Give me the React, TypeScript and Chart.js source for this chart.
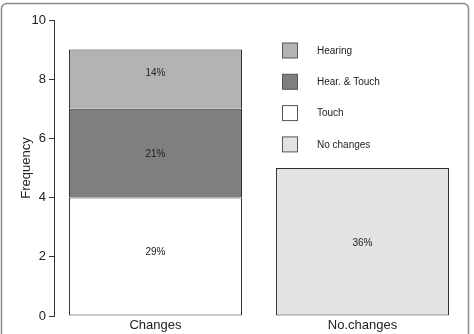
import React, { useEffect, useRef } from 'react';
import { Chart, registerables } from 'chart.js';

Chart.register(...registerables);

const categories = ['Changes', 'No.changes'];
const seriesNames = ['Touch', 'Hear. & Touch', 'Hearing', 'No changes'];
const touch = [4, null];
const hearTouch = [3, null];
const hearing = [2, null];
const noChanges = [null, 5];
const percentLabels = ['29%', '21%', '14%', '36%'];
const labelAnchors = [2.15, 5.45, 8.2, 2.45];
const yTicks = [0, 2, 4, 6, 8, 10];
const legendOrder = ['Hearing', 'Hear. & Touch', 'Touch', 'No changes'];

const FONT = "'Liberation Sans', Arial, Helvetica, sans-serif";
const fills: Record<string, string> = {
  'Touch': '#ffffff',
  'Hear. & Touch': '#7f7f7f',
  'Hearing': '#b3b3b3',
  'No changes': '#e3e3e3',
};

const toPoints = (arr: (number | null)[]) =>
  arr.map((v, i) => (v == null ? null : { x: i, y: v })).filter((p) => p !== null);

const framePlugin = {
  id: 'frame',
  beforeDraw(chart: any) {
    const ctx = chart.ctx;
    ctx.save();
    ctx.fillStyle = '#ffffff';
    ctx.fillRect(0, 0, chart.width, chart.height);
    ctx.strokeStyle = '#8a8a8a';
    ctx.lineWidth = 1.5;
    ctx.beginPath();
    ctx.roundRect(1.5, 3.5, 467, 400, 5);
    ctx.stroke();
    ctx.restore();
  },
};

const labelPlugin = {
  id: 'pctLabels',
  afterDatasetsDraw(chart: any) {
    const ctx = chart.ctx;
    const yScale = chart.scales.y;
    ctx.save();
    ctx.font = `10px ${FONT}`;
    ctx.fillStyle = '#222';
    ctx.textAlign = 'center';
    ctx.textBaseline = 'middle';
    chart.data.datasets.forEach((ds: any, di: number) => {
      const meta = chart.getDatasetMeta(di);
      meta.data.forEach((el: any) => {
        ctx.fillText(percentLabels[di], el.x, yScale.getPixelForValue(labelAnchors[di]));
      });
    });
    ctx.restore();
  },
};

const legendPlugin = {
  id: 'customLegend',
  afterDraw(chart: any) {
    const ctx = chart.ctx;
    ctx.save();
    const boxX = 282.5;
    const startY = 51;
    const step = 31.3;
    legendOrder.forEach((name, i) => {
      const cy = startY + i * step;
      ctx.fillStyle = fills[name];
      ctx.fillRect(boxX, cy - 8, 15, 15);
      ctx.strokeStyle = '#555';
      ctx.lineWidth = 1;
      ctx.strokeRect(boxX, cy - 8, 15, 15);
      ctx.fillStyle = '#222';
      ctx.font = `10px ${FONT}`;
      ctx.textAlign = 'left';
      ctx.textBaseline = 'middle';
      ctx.fillText(name, 317, cy);
    });
    ctx.restore();
  },
};

export default function App() {
  const ref = useRef<HTMLCanvasElement>(null);
  useEffect(() => {
    const series = [touch, hearTouch, hearing, noChanges];
    const chart = new Chart(ref.current!, {
      type: 'bar',
      data: {
        datasets: series.map((arr, i) => ({
          label: seriesNames[i],
          data: toPoints(arr) as any,
          backgroundColor: fills[seriesNames[i]],
          borderColor: '#2e2e2e',
          borderWidth: 1,
          borderSkipped: i === 0 || i === 3 ? false : 'start',
          barPercentage: 0.836,
          categoryPercentage: 1,
        })),
      },
      options: {
        responsive: false,
        animation: false,
        devicePixelRatio: 1,
        events: [],
        layout: { padding: { top: 20, right: 8, left: 0, bottom: 0 } },
        plugins: {
          legend: { display: false },
          tooltip: { enabled: false },
        },
        scales: {
          x: {
            type: 'linear',
            stacked: true,
            offset: false,
            min: -0.4903,
            max: 1.5,
            afterBuildTicks: (s: any) => {
              s.ticks = categories.map((_, i) => ({ value: i }));
            },
            afterFit: (s: any) => {
              s.height = 18;
            },
            grid: { display: false, drawTicks: false, offset: false },
            border: { display: false },
            ticks: {
              autoSkip: false,
              maxRotation: 0,
              padding: 2,
              color: '#222',
              font: { family: FONT, size: 13 },
              callback: (v: any) => categories[v as number] ?? '',
            },
          },
          y: {
            stacked: true,
            min: 0,
            max: 10,
            afterBuildTicks: (s: any) => {
              s.ticks = yTicks.map((v) => ({ value: v }));
            },
            afterFit: (s: any) => {
              s.width = 54;
            },
            grid: { drawOnChartArea: false, drawTicks: true, tickLength: 5, color: '#333' },
            border: { display: true, color: '#333', width: 1 },
            ticks: {
              padding: 3,
              color: '#222',
              font: { family: FONT, size: 13 },
            },
            title: {
              display: true,
              text: 'Frequency',
              color: '#222',
              font: { family: FONT, size: 13 },
              padding: { top: 19, bottom: 0 },
            },
          },
        },
      },
      plugins: [framePlugin, labelPlugin, legendPlugin],
    });
    return () => chart.destroy();
  }, []);
  return (
    <div style={{ position: 'absolute', left: 0, top: 0, width: 474, height: 334, background: '#fff' }}>
      <canvas ref={ref} width={474} height={334} style={{ display: 'block' }} />
    </div>
  );
}
